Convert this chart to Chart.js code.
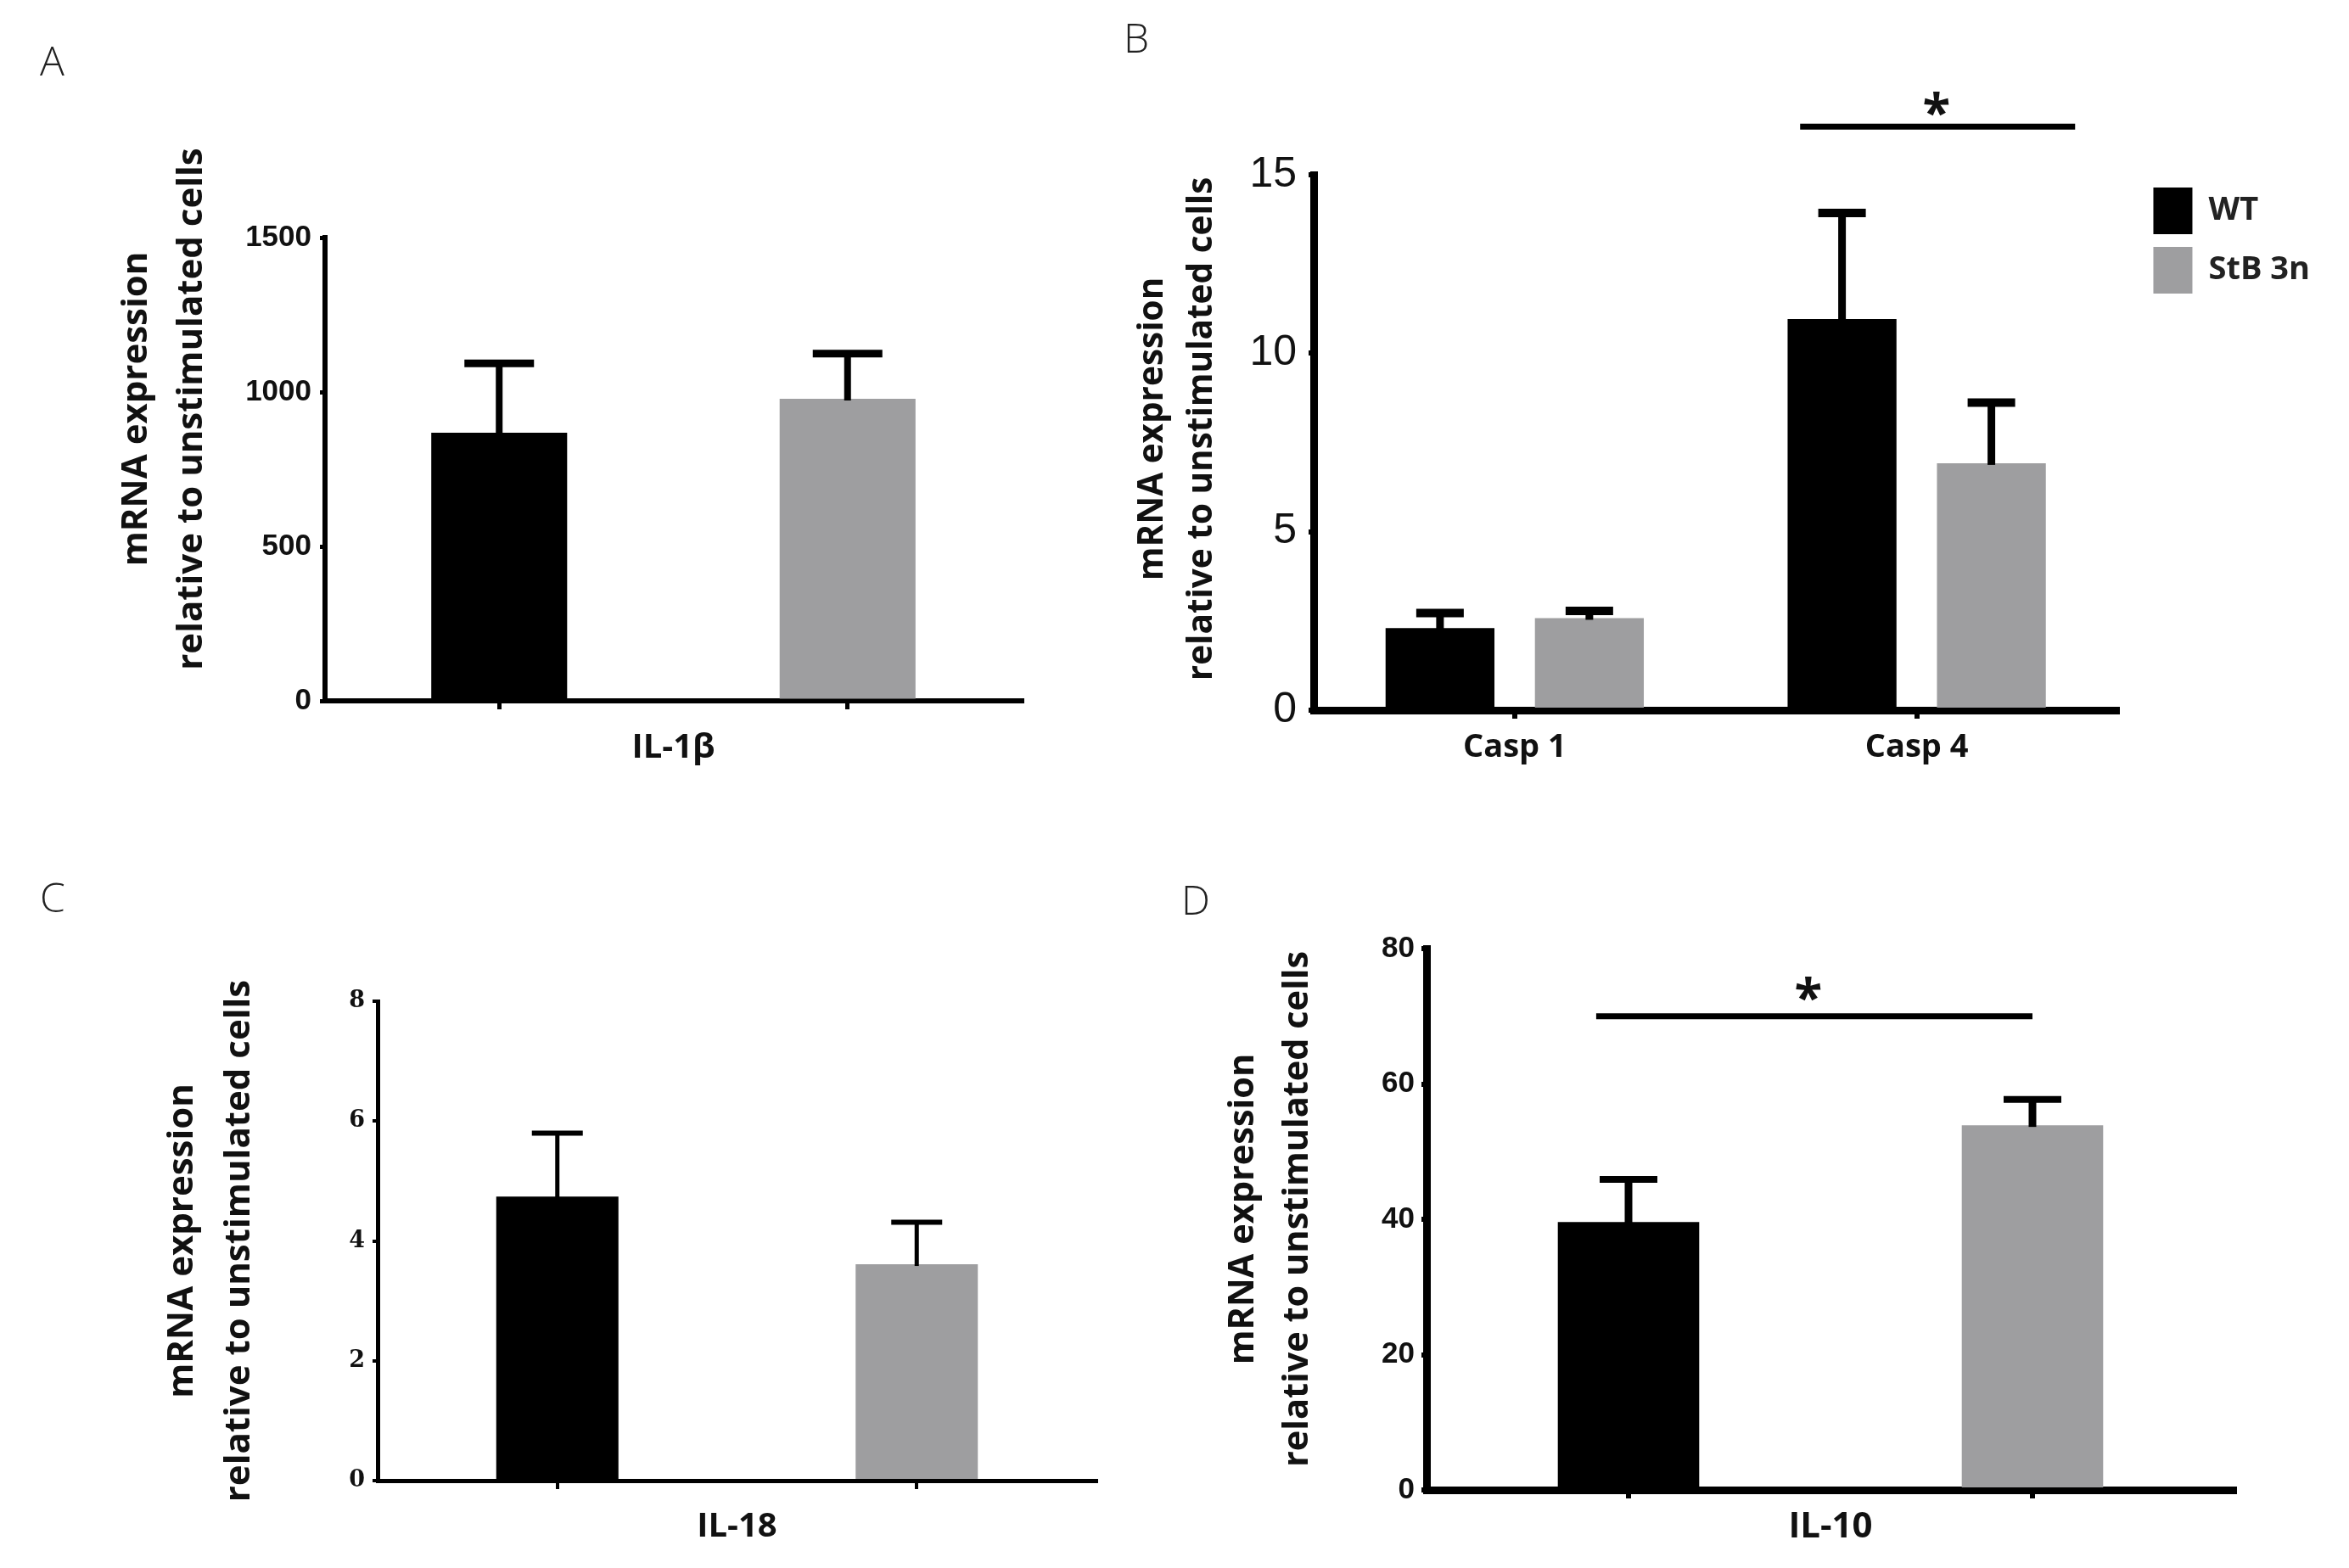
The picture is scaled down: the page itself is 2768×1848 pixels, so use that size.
<!DOCTYPE html>
<html>
<head>
<meta charset="utf-8">
<title>mRNA expression relative to unstimulated cells</title>
<script src="https://cdn.jsdelivr.net/npm/chart.js@4.4.1/dist/chart.umd.min.js"></script>
<style>
  html, body { margin: 0; padding: 0; background: #ffffff; }
  #page { position: relative; width: 2768px; height: 1848px; overflow: hidden; background: #ffffff; }
  canvas { position: absolute; }
  .letter { position: absolute; font-family: "Open Sans", sans-serif; font-weight: 300; font-size: 48px; line-height: 1; color: #222; }
</style>
</head>
<body>
<div id="page">
  <canvas id="cA" width="1300" height="924" style="left:0px;top:0px;width:1300px;height:924px"></canvas>
  <canvas id="cB" width="1468" height="924" style="left:1300px;top:0px;width:1468px;height:924px"></canvas>
  <canvas id="cC" width="1300" height="924" style="left:0px;top:924px;width:1300px;height:924px"></canvas>
  <canvas id="cD" width="1468" height="924" style="left:1300px;top:924px;width:1468px;height:924px"></canvas>
  <div class="letter" style="left:47px;top:47px">A</div>
  <div class="letter" style="left:1324px;top:20px">B</div>
  <div class="letter" style="left:47px;top:1033px">C</div>
  <div class="letter" style="left:1392px;top:1036px">D</div>
</div>
<script>
// ---------------- data ----------------
const seriesNames = ['WT', 'StB 3n'];
const yAxisTitle = ['mRNA expression', 'relative to unstimulated cells'];

// Panel A: IL-1β
const il1bGene = 'IL-1β';
const il1bMean = [868, 978];
const il1bErr = [225, 146];
const il1bTicks = [0, 500, 1000, 1500];

// Panel B: caspases
const caspCategories = ['Casp 1', 'Casp 4'];
const caspWT = [2.3, 10.96];
const caspWTErr = [0.42, 2.97];
const caspStB = [2.58, 6.92];
const caspStBErr = [0.2, 1.7];
const caspTicks = [0, 5, 10, 15];
const caspSigSpan = [0.71, 1.394];
const caspSigLevel = 16.35;
const caspStar = [1.049, 16.9];

// Panel C: IL-18
const il18Gene = 'IL-18';
const il18Mean = [4.74, 3.61];
const il18Err = [1.06, 0.70];
const il18Ticks = [0, 2, 4, 6, 8];

// Panel D: IL-10
const il10Gene = 'IL-10';
const il10Mean = [39.6, 53.9];
const il10Err = [6.3, 3.8];
const il10Ticks = [0, 20, 40, 60, 80];
const il10SigSpan = [-0.08, 1.0];
const il10SigLevel = 70;
const il10Star = [0.445, 73.6];

// ---------------- styles ----------------
const COLORS = ['#000000', '#9e9ea0'];
const TEXT = '#111111';

// datasets for single-gene panels: one bar per group, centered on its own category
function groupDatasets(means, errs) {
  return seriesNames.map((name, gi) => ({
    label: name,
    data: means.map((v, i) => (i === gi ? v : null)),
    errorUp: errs.map((v, i) => (i === gi ? v : null)),
    backgroundColor: COLORS[gi],
    borderColor: COLORS[gi],
    borderWidth: 0,
    yAxisID: 'y'
  }));
}

function errorBarPlugin(st) {
  return {
    id: 'errorBars',
    afterDatasetsDraw(chart) {
      const ctx = chart.ctx;
      const ys = chart.scales.y;
      chart.data.datasets.forEach((ds, di) => {
        const meta = chart.getDatasetMeta(di);
        meta.data.forEach((bar, i) => {
          const v = ds.data[i];
          const e = ds.errorUp ? ds.errorUp[i] : null;
          if (v === null || v === undefined || e === null || e === undefined) return;
          const p = bar.getProps(['x', 'y'], true);
          const yTop = ys.getPixelForValue(v + e);
          ctx.save();
          ctx.strokeStyle = '#000';
          ctx.lineCap = 'butt';
          ctx.lineWidth = st.stem;
          ctx.beginPath();
          ctx.moveTo(p.x, p.y + 2);
          ctx.lineTo(p.x, yTop);
          ctx.stroke();
          ctx.lineWidth = st.cap;
          ctx.beginPath();
          ctx.moveTo(p.x - st.capHalf, yTop);
          ctx.lineTo(p.x + st.capHalf, yTop);
          ctx.stroke();
          ctx.restore();
        });
      });
    }
  };
}

function sigPlugin(span, level, star, st) {
  return {
    id: 'sigBar',
    afterDraw(chart) {
      if (!span) return;
      const {ctx} = chart;
      const xs = chart.scales.x, ys = chart.scales.y;
      const x0 = xs.getPixelForValue(span[0]);
      const x1 = xs.getPixelForValue(span[1]);
      const yy = ys.getPixelForValue(level);
      ctx.save();
      ctx.strokeStyle = '#000';
      ctx.lineWidth = st.line;
      ctx.lineCap = 'butt';
      ctx.beginPath();
      ctx.moveTo(x0, yy);
      ctx.lineTo(x1, yy);
      ctx.stroke();
      ctx.fillStyle = TEXT;
      ctx.font = 'bold ' + st.starSize + 'px "Open Sans"';
      ctx.textAlign = 'center';
      ctx.textBaseline = 'alphabetic';
      ctx.fillText('*', xs.getPixelForValue(star[0]), ys.getPixelForValue(star[1]) + 0.47 * st.starSize);
      ctx.restore();
    }
  };
}

// moves the centre of the y-axis title along the axis (the figure's titles sit a bit high)
function titleShiftPlugin(dy) {
  return {
    id: 'titleShift',
    afterLayout(chart) {
      const s = chart.scales.y;
      if (!s || !dy || s._titleShiftPatched) return;
      const orig = s.drawTitle;
      s.drawTitle = function () {
        const t = this.top, b = this.bottom;
        this.top += dy; this.bottom += dy;
        try { orig.call(this); } finally { this.top = t; this.bottom = b; }
      };
      s._titleShiftPatched = true;
    }
  };
}

function buildChart(id, c) {
  const scales = {
    x: {
      type: 'category',
      offset: true,
      grid: { display: true, drawOnChartArea: false, drawTicks: true, tickLength: 10, offset: false, color: '#000', lineWidth: c.tickW },
      border: { display: true, color: '#000', width: c.axisW },
      ticks: {
        display: !!c.xTickFont,
        font: c.xTickFont || { size: 12 },
        color: TEXT,
        padding: 11,
        maxRotation: 0,
        autoSkip: false
      },
      title: {
        display: !!c.xTitle,
        text: c.xTitle || '',
        font: c.xTitleFont,
        color: TEXT,
        padding: { top: 0, bottom: 0 }
      },
      afterFit: s => { s.height = c.xHeight; }
    },
    y: {
      type: 'linear',
      position: 'left',
      min: c.yTicks[0],
      max: c.yTicks[c.yTicks.length - 1],
      afterBuildTicks: s => { s.ticks = c.yTicks.map(v => ({ value: v })); },
      grid: { display: true, drawOnChartArea: false, drawTicks: true, tickLength: 6, color: '#000', lineWidth: c.tickW },
      border: { display: true, color: '#000', width: c.axisW },
      ticks: { font: c.yTickFont, color: TEXT, padding: c.yTickPad, callback: v => String(v) },
      title: {
        display: true,
        text: yAxisTitle,
        font: { family: 'Open Sans', weight: 'bold', size: c.titleSize, lineHeight: c.titleLH },
        color: TEXT,
        padding: { top: c.yTitlePad, bottom: 0 }
      },
      afterFit: s => { s.width = c.yWidth; }
    }
  };
  if (c.rightGap) {
    // empty spacer between the plot and the legend
    scales.yGap = {
      type: 'linear',
      position: 'right',
      display: true,
      grid: { display: false },
      border: { display: false },
      ticks: { display: false },
      title: { display: false },
      afterFit: s => { s.width = c.rightGap; }
    };
  }
  return new Chart(document.getElementById(id), {
    type: 'bar',
    data: { labels: c.labels, datasets: c.datasets },
    options: {
      responsive: false,
      animation: false,
      events: [],
      layout: { padding: c.padding },
      datasets: {
        bar: { skipNull: true, categoryPercentage: c.catPct, barPercentage: c.barPct, borderWidth: 0 }
      },
      plugins: {
        legend: c.legend || { display: false },
        tooltip: { enabled: false },
        title: { display: false }
      },
      scales: scales
    },
    plugins: [
      errorBarPlugin(c.err),
      sigPlugin(c.sigSpan, c.sigLevel, c.star, { line: 7, starSize: 60 }),
      titleShiftPlugin(c.titleShift || 0)
    ]
  });
}

// Panel A
buildChart('cA', {
  labels: seriesNames,
  datasets: groupDatasets(il1bMean, il1bErr),
  padding: { left: 100, top: 280, right: 96, bottom: 18 },
  yWidth: 283, yTitlePad: 29, titleSize: 42, titleLH: 1.536, titleShift: -71,
  xHeight: 80,
  xTitle: il1bGene, xTitleFont: { family: 'Open Sans', weight: 'bold', size: 40, lineHeight: 1.2 },
  yTicks: il1bTicks, yTickFont: { family: 'Liberation Sans', weight: 'bold', size: 35 }, yTickPad: 10,
  axisW: 6, tickW: 5,
  catPct: 1, barPct: 0.39,
  err: { stem: 8, cap: 9, capHalf: 41 }
});

// Panel B
buildChart('cB', {
  labels: caspCategories,
  datasets: [
    { label: seriesNames[0], data: caspWT, errorUp: caspWTErr, backgroundColor: COLORS[0], borderColor: COLORS[0], borderWidth: 0, yAxisID: 'y' },
    { label: seriesNames[1], data: caspStB, errorUp: caspStBErr, backgroundColor: COLORS[1], borderColor: COLORS[1], borderWidth: 0, yAxisID: 'y' }
  ],
  padding: { left: 13, top: 206, right: 36, bottom: 7 },
  rightGap: 27,
  yWidth: 235, yTitlePad: 17, titleSize: 40.5, titleLH: 1.43, titleShift: -16,
  xHeight: 80,
  xTickFont: { family: 'Open Sans', weight: 'bold', size: 38, lineHeight: 1.2 },
  yTicks: caspTicks, yTickFont: { family: 'Liberation Sans', weight: 'normal', size: 50 }, yTickPad: 14,
  axisW: 9, tickW: 6,
  catPct: 0.743, barPct: 0.729,
  err: { stem: 9, cap: 10, capHalf: 28 },
  sigSpan: caspSigSpan, sigLevel: caspSigLevel, star: caspStar,
  legend: {
    display: true,
    position: 'right',
    align: 'start',
    labels: {
      boxWidth: 46,
      boxHeight: 55,
      padding: 15,
      color: '#222',
      font: { family: 'Open Sans', weight: 'bold', size: 38 }
    }
  }
});

// Panel C
buildChart('cC', {
  labels: seriesNames,
  datasets: groupDatasets(il18Mean, il18Err),
  padding: { left: 150, top: 256, right: 8, bottom: 24 },
  yWidth: 295, yTitlePad: 32, titleSize: 42, titleLH: 1.58, titleShift: 0,
  xHeight: 79,
  xTitle: il18Gene, xTitleFont: { family: 'Open Sans', weight: 'bold', size: 40, lineHeight: 1.2 },
  yTicks: il18Ticks, yTickFont: { family: 'DejaVu Serif', weight: 'bold', size: 27 }, yTickPad: 9,
  axisW: 5, tickW: 4,
  catPct: 1, barPct: 0.34,
  err: { stem: 5, cap: 6, capHalf: 30 }
});

// Panel D
buildChart('cD', {
  labels: seriesNames,
  datasets: groupDatasets(il10Mean, il10Err),
  padding: { left: 100, top: 194, right: 135, bottom: 23 },
  yWidth: 281, yTitlePad: 33, titleSize: 41.5, titleLH: 1.55, titleShift: -12,
  xHeight: 69,
  xTitle: il10Gene, xTitleFont: { family: 'Open Sans', weight: 'bold', size: 42, lineHeight: 1.2 },
  yTicks: il10Ticks, yTickFont: { family: 'Liberation Sans', weight: 'bold', size: 35 }, yTickPad: 8,
  axisW: 9, tickW: 6,
  catPct: 1, barPct: 0.35,
  err: { stem: 9, cap: 8, capHalf: 34 },
  sigSpan: il10SigSpan, sigLevel: il10SigLevel, star: il10Star
});
</script>
</body>
</html>
